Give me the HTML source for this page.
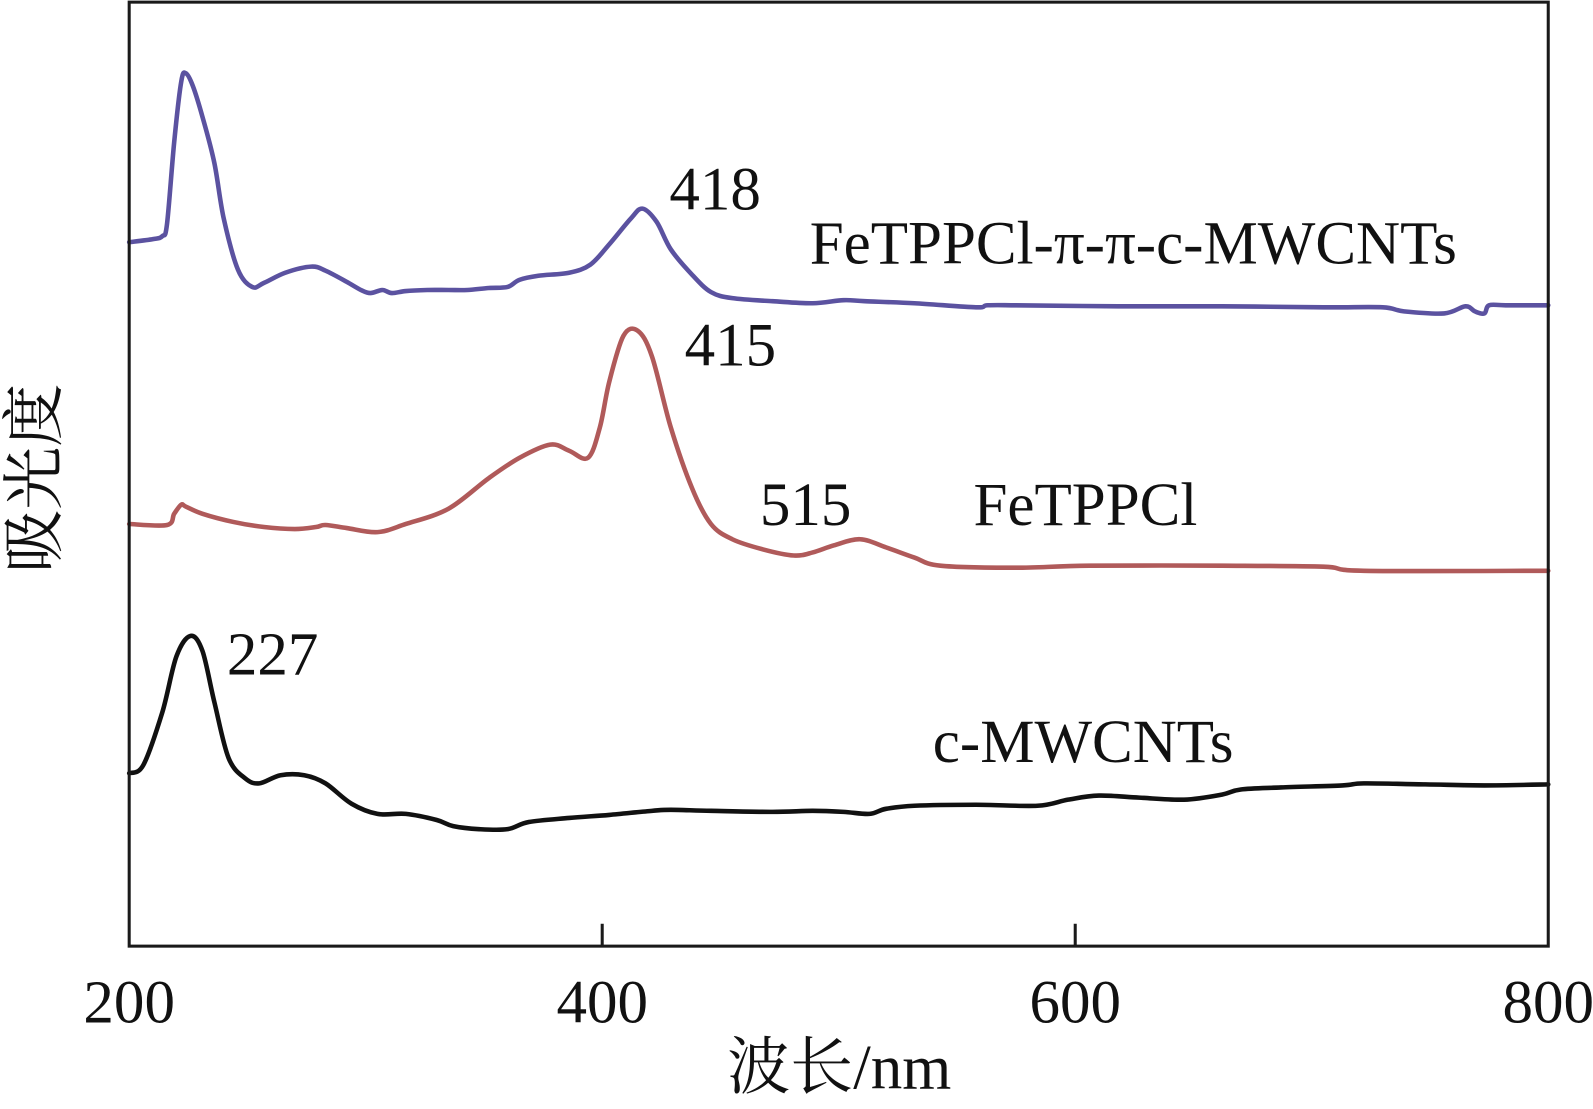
<!DOCTYPE html>
<html><head><meta charset="utf-8"><style>
html,body{margin:0;padding:0;background:#fff;}
svg{display:block;}
text{font-family:"Liberation Serif","Noto Serif CJK SC",serif;fill:#111;}
</style></head><body>
<svg id="chart" width="1593" height="1109" viewBox="0 0 1566 1090" xmlns="http://www.w3.org/2000/svg">
<g id="series"></g>
<rect x="127" y="2" width="1395" height="928" fill="none" stroke="#1a1a1a" stroke-width="3"/>
<g id="ticks"></g>
<text x="825" y="1070" font-size="62" text-anchor="middle">波长/nm</text>
<text x="0" y="0" font-size="62" text-anchor="middle" transform="translate(55,470) rotate(-90)">吸光度</text>
<text x="658" y="206" font-size="60">418</text>
<text x="796" y="259" font-size="60">FeTPPCl-π-π-c-MWCNTs</text>
<text x="673" y="359" font-size="60">415</text>
<text x="747" y="516" font-size="60">515</text>
<text x="957" y="516" font-size="60">FeTPPCl</text>
<text x="223" y="663" font-size="60">227</text>
<text x="917" y="749" font-size="60">c-MWCNTs</text>
</svg>
<script>
const xTicks = [200, 400, 600, 800];
const purpleX = [200,210,214,216,219,222,224,227,231,236,240,246,252,257,266,277,283,292,298,302,307,311,317,326,335,343,352,360,365,373,386,395,403,412,417,423,429,438,446,455,472,489,502,511,532,558,563,575,618,662,705,730,739,756,765,769,773,775,782,800];
const purpleY = [6.92,6.95,6.98,7.10,7.90,8.50,8.58,8.45,8.15,7.70,7.15,6.65,6.48,6.52,6.62,6.68,6.64,6.53,6.45,6.42,6.45,6.42,6.44,6.45,6.45,6.45,6.47,6.48,6.55,6.59,6.62,6.70,6.90,7.15,7.25,7.12,6.85,6.60,6.43,6.37,6.34,6.32,6.35,6.34,6.32,6.28,6.30,6.30,6.29,6.29,6.28,6.28,6.24,6.22,6.29,6.24,6.22,6.30,6.30,6.30];
const redX = [200,216,219,222,224,231,244,257,270,279,283,292,305,317,335,352,365,378,386,394,399,403,409,415,421,429,438,446,455,468,481,489,498,509,520,532,543,575,606,662,705,722,800];
const redY = [4.15,4.14,4.25,4.34,4.32,4.25,4.17,4.12,4.10,4.12,4.14,4.11,4.07,4.15,4.30,4.60,4.80,4.93,4.87,4.80,5.10,5.55,6.00,6.05,5.80,5.10,4.50,4.15,4.00,3.90,3.84,3.87,3.94,4.00,3.92,3.82,3.74,3.72,3.74,3.74,3.73,3.69,3.69];
const blackX = [200,206,214,220,226,231,236,242,249,255,264,274,283,294,305,317,330,337,348,360,369,386,403,421,429,446,472,489,502,513,520,532,558,584,597,610,627,646,662,670,687,713,722,748,773,800];
const blackY = [1.70,1.78,2.30,2.85,3.05,2.90,2.40,1.85,1.65,1.60,1.68,1.68,1.60,1.40,1.30,1.30,1.24,1.18,1.15,1.15,1.22,1.26,1.29,1.33,1.34,1.33,1.32,1.33,1.32,1.30,1.35,1.38,1.39,1.38,1.44,1.48,1.46,1.44,1.49,1.54,1.56,1.58,1.60,1.59,1.58,1.59];

const X0=127, X1=1522, Y0=930;
function xs(v){return X0+(v-200)/(800-200)*(X1-X0);}
function ys(v){return Y0-v*100;}
const NS='http://www.w3.org/2000/svg';
const seriesG=document.getElementById('series');
function drawLine(xa,ya,color,name){
  const pts=xa.map((v,i)=>[xs(v),ys(ya[i])]);
  let d='M'+pts[0][0].toFixed(1)+','+pts[0][1].toFixed(1);
  for(let i=0;i<pts.length-1;i++){
    const p0=pts[Math.max(0,i-1)],p1=pts[i],p2=pts[i+1],p3=pts[Math.min(pts.length-1,i+2)];
    const c1x=p1[0]+(p2[0]-p0[0])/6,c1y=p1[1]+(p2[1]-p0[1])/6;
    const c2x=p2[0]-(p3[0]-p1[0])/6,c2y=p2[1]-(p3[1]-p1[1])/6;
    d+='C'+c1x.toFixed(1)+','+c1y.toFixed(1)+' '+c2x.toFixed(1)+','+c2y.toFixed(1)+' '+p2[0].toFixed(1)+','+p2[1].toFixed(1);
  }
  const p=document.createElementNS(NS,'path');
  p.setAttribute('d',d);
  p.setAttribute('fill','none');
  p.setAttribute('stroke',color);
  p.setAttribute('stroke-width','4.5');
  p.setAttribute('stroke-linejoin','round');
  p.setAttribute('stroke-linecap','round');
  
  
  seriesG.appendChild(p);
}
drawLine(purpleX,purpleY,'#5b52a0','series-fetppcl-pi-pi-c-mwcnts');
drawLine(redX,redY,'#b05a5a','series-fetppcl');
drawLine(blackX,blackY,'#111111','series-c-mwcnts');

const tg=document.getElementById('ticks');
xTicks.forEach(t=>{
  const x=xs(t);
  if(t>200&&t<800){
    const l=document.createElementNS(NS,'line');
    l.setAttribute('x1',x);l.setAttribute('x2',x);l.setAttribute('y1',Y0);l.setAttribute('y2',Y0-22);
    l.setAttribute('stroke','#1a1a1a');l.setAttribute('stroke-width','3');
    
    
    tg.appendChild(l);
  }
  const tx=document.createElementNS(NS,'text');
  tx.setAttribute('x',x);tx.setAttribute('y',1005);
  tx.setAttribute('font-size','60');tx.setAttribute('text-anchor','middle');
  tx.textContent=t;
  
  
  tg.appendChild(tx);
});
</script>
</body></html>
